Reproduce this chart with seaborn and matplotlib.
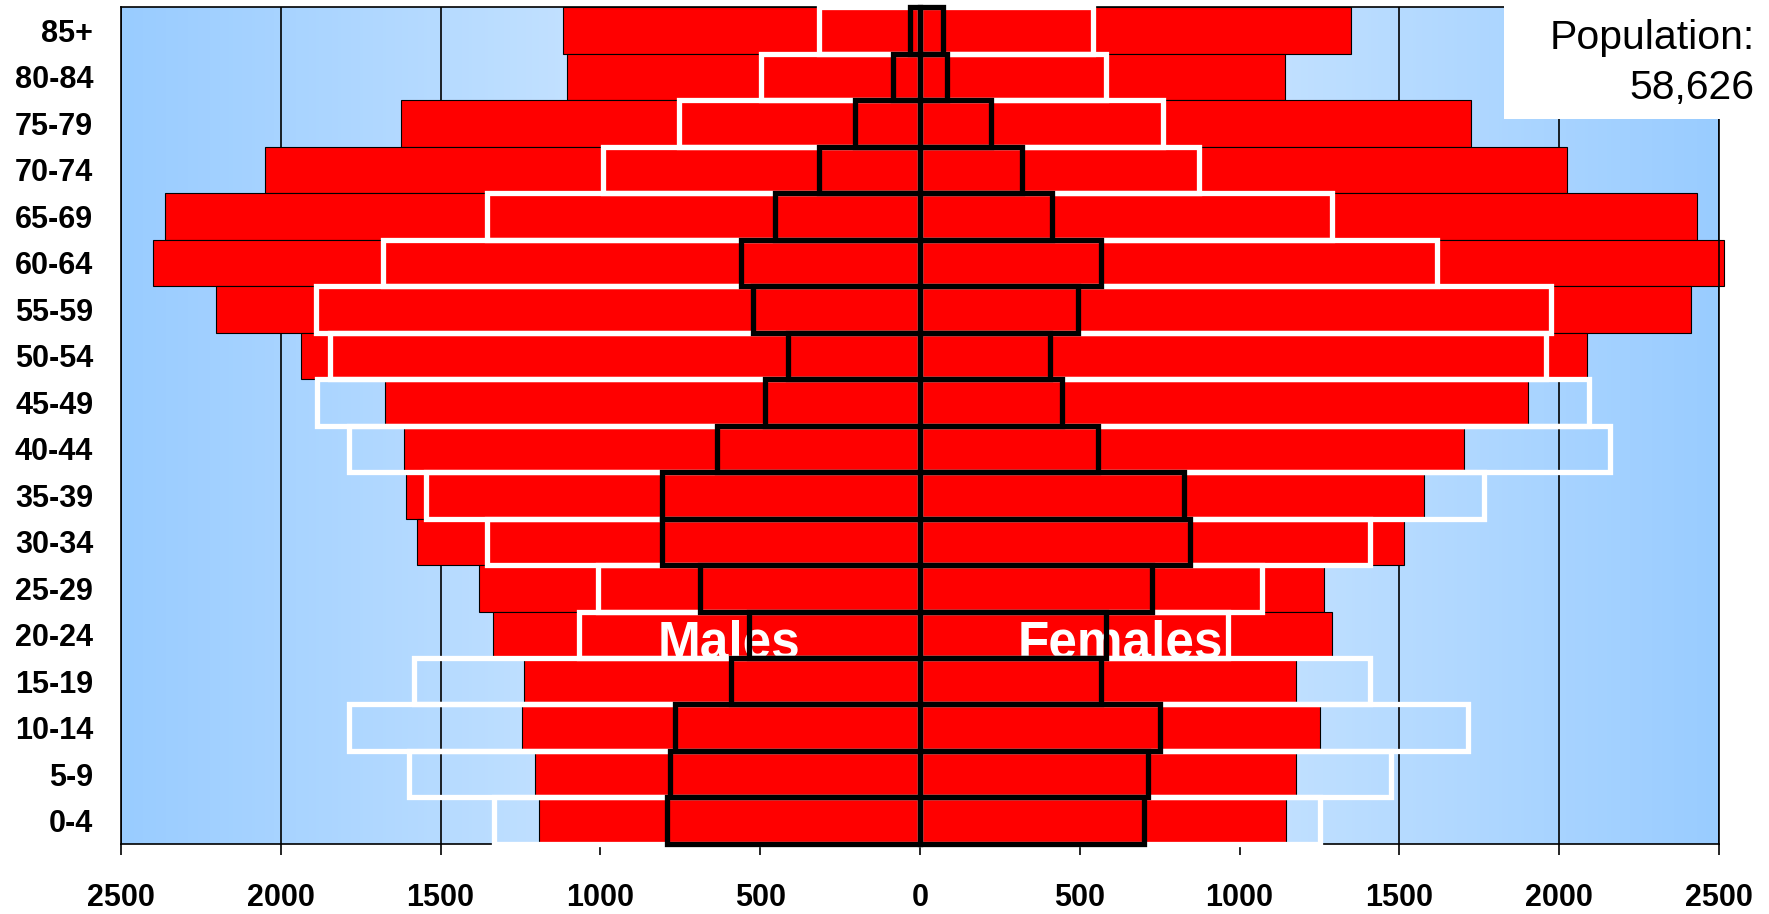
import numpy as np
import pandas as pd
import matplotlib
matplotlib.use("Agg")
import matplotlib.pyplot as plt
from matplotlib.patches import Rectangle
import seaborn as sns

# age groups, top of the pyramid first
ages = ['85+', '80-84', '75-79', '70-74', '65-69', '60-64', '55-59', '50-54', '45-49',
        '40-44', '35-39', '30-34', '25-29', '20-24', '15-19', '10-14', '5-9', '0-4']

# current population (red bars)
male_now = [1117, 1105, 1625, 2050, 2363, 2401, 2202, 1938, 1675,
            1613, 1608, 1575, 1381, 1335, 1240, 1244, 1206, 1192]
female_now = [1348, 1142, 1725, 2024, 2431, 2515, 2414, 2086, 1903,
              1703, 1578, 1515, 1264, 1289, 1177, 1253, 1177, 1145]

# earlier census (white outlines)
male_mid = [316, 497, 753, 992, 1355, 1680, 1890, 1845, 1887,
            1788, 1545, 1355, 1006, 1066, 1583, 1788, 1600, 1332]
female_mid = [541, 583, 759, 873, 1288, 1617, 1973, 1959, 2094,
              2159, 1766, 1408, 1070, 964, 1407, 1714, 1475, 1253]

# oldest census (black outlines)
male_old = [30, 84, 203, 315, 453, 561, 524, 412, 486,
            636, 806, 806, 688, 534, 590, 766, 782, 793]
female_old = [72, 86, 222, 319, 412, 567, 495, 406, 444,
              558, 825, 845, 726, 582, 565, 751, 712, 701]

total_pop = '58,626'
xticks = [-2500, -2000, -1500, -1000, -500, 0, 500, 1000, 1500, 2000, 2500]

df = pd.DataFrame({'age': ages,
                   'male_now': [-v for v in male_now], 'female_now': female_now,
                   'male_mid': [-v for v in male_mid], 'female_mid': female_mid,
                   'male_old': [-v for v in male_old], 'female_old': female_old})

sns.set_style('ticks')
plt.rcParams['font.family'] = ['Liberation Sans', 'DejaVu Sans']
plt.rcParams['text.color'] = 'black'

fig = plt.figure(figsize=(17.69, 9.14), dpi=100)
ax = fig.add_axes([0.0684, 0.0766, 0.9033, 0.9157])

# background: blue at the edges, lighter towards the centre
t = np.abs(np.linspace(-1, 1, 501))
edge = np.array([153, 204, 255]) / 255
centre = np.array([226, 241, 255]) / 255
grad = centre[None, :] + t[:, None] * (edge - centre)[None, :]
ax.imshow(grad[None, :, :], extent=[-2500, 2500, 17.5, -0.5], aspect='auto', zorder=0)

for col in ['male_now', 'female_now']:
    sns.barplot(data=df, x=col, y='age', orient='h', order=ages, color='#FF0000',
                edgecolor='black', linewidth=0.8, width=1.0, errorbar=None,
                saturation=1, ax=ax, zorder=2)
for col in ['male_mid', 'female_mid']:
    sns.barplot(data=df, x=col, y='age', orient='h', order=ages, color='white',
                fill=False, linewidth=3.8, width=1.0, errorbar=None,
                ax=ax, zorder=3)
for col in ['male_old', 'female_old']:
    sns.barplot(data=df, x=col, y='age', orient='h', order=ages, color='black',
                fill=False, linewidth=3.8, width=1.0, errorbar=None,
                ax=ax, zorder=4)

for p in ax.patches:
    p.set_clip_on(False)

ax.set_xlim(-2500, 2500)
ax.set_ylim(17.5, -0.5)
ax.set_xticks(xticks)
ax.set_xticklabels([str(abs(v)) for v in xticks])
ax.xaxis.grid(True, color='black', linewidth=1.2)
ax.set_axisbelow(True)
ax.set_xlabel('')
ax.set_ylabel('')

ax.tick_params(axis='x', direction='out', length=8, width=1.2, pad=20,
               labelsize=22, colors='black')
ax.tick_params(axis='y', length=0, pad=20, labelsize=22, labelcolor='black')
for lab in ax.get_xticklabels() + ax.get_yticklabels():
    lab.set_fontweight('bold')
for s in ax.spines.values():
    s.set_color('black')
    s.set_linewidth(1.2)
    s.set_visible(True)

ax.text(-598, 13.5, 'Males', ha='center', va='baseline', color='white',
        fontsize=37, fontweight='bold', zorder=3.5)
ax.text(628, 13.5, 'Females', ha='center', va='baseline', color='white',
        fontsize=37, fontweight='bold', zorder=3.5)

# population box in the top right corner
fig.add_artist(Rectangle((0.8502, 0.8698), 0.1498, 0.1302, transform=fig.transFigure,
                         facecolor='white', edgecolor='none', zorder=5))
fig.text(0.9918, 0.946, 'Population:', ha='right', va='baseline', fontsize=29.5,
         color='black', zorder=6)
fig.text(0.9918, 0.8914, total_pop, ha='right', va='baseline', fontsize=29.5,
         color='black', zorder=6)

fig.savefig('out.png', dpi=100)
